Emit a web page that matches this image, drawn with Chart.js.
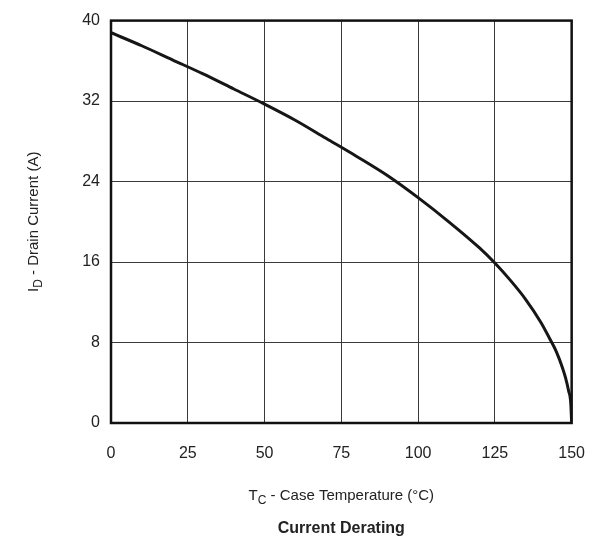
<!DOCTYPE html>
<html>
<head>
<meta charset="utf-8">
<script src="https://cdn.jsdelivr.net/npm/chart.js@4/dist/chart.umd.min.js"></script>
<style>
  html, body { margin: 0; padding: 0; background: #fff; }
  #wrap { width: 606px; height: 538px; }
</style>
</head>
<body>
<div id="wrap"><canvas id="derating" width="606" height="538"></canvas></div>
<script>
// case temperature (°C) vs drain current (A)
const caseTemp = [0, 10, 20, 30, 40, 50, 60, 70, 80, 90, 100, 110, 120, 125, 130, 135, 140, 143, 145, 147, 148, 149, 149.7, 150];
const drainCurrent = [38.8, 37.5, 36.1, 34.7, 33.2, 31.7, 30.1, 28.3, 26.5, 24.6, 22.4, 20.0, 17.4, 15.9, 14.2, 12.3, 10.0, 8.3, 7.1, 5.5, 4.5, 3.2, 2.0, 0];
const xTicks = [0, 25, 50, 75, 100, 125, 150];
const yTicks = [0, 8, 16, 24, 32, 40];

const FONT = '"Liberation Sans", Arial, sans-serif';

// draws the frame and the titles (with subscripts)
const decorations = {
    id: 'decorations',
    afterDatasetsDraw(chart) {
        const { ctx, chartArea: a } = chart;
        ctx.save();
        ctx.strokeStyle = '#111';
        ctx.lineWidth = 2.5;
        ctx.strokeRect(a.left, a.top, a.right - a.left, a.bottom - a.top);
        ctx.restore();
    },
    afterDraw(chart) {
        const { ctx, chartArea: a } = chart;
        ctx.save();
        ctx.fillStyle = '#222';
        ctx.textBaseline = 'alphabetic';

        // x axis title
        const big = '15px ' + FONT, small = '12px ' + FONT;
        const parts = [['T', big, 0], ['C', small, 4], [' - Case Temperature (°C)', big, 0]];
        let w = 0;
        parts.forEach(p => { ctx.font = p[1]; w += ctx.measureText(p[0]).width; });
        let x = (a.left + a.right) / 2 - w / 2;
        parts.forEach(p => {
            ctx.font = p[1];
            ctx.textAlign = 'left';
            ctx.fillText(p[0], x, 500 + p[2]);
            x += ctx.measureText(p[0]).width;
        });

        // y axis title
        ctx.translate(38, (a.top + a.bottom) / 2);
        ctx.rotate(-Math.PI / 2);
        const yparts = [['I', big, 0], ['D', small, 4], [' - Drain Current (A)', big, 0]];
        w = 0;
        yparts.forEach(p => { ctx.font = p[1]; w += ctx.measureText(p[0]).width; });
        x = -w / 2;
        yparts.forEach(p => {
            ctx.font = p[1];
            ctx.fillText(p[0], x, p[2]);
            x += ctx.measureText(p[0]).width;
        });
        ctx.restore();

        // chart caption
        ctx.save();
        ctx.fillStyle = '#222';
        ctx.font = 'bold 16px ' + FONT;
        ctx.textAlign = 'center';
        ctx.fillText('Current Derating', (a.left + a.right) / 2, 533);
        ctx.restore();
    }
};

new Chart(document.getElementById('derating'), {
    type: 'scatter',
    data: {
        datasets: [{
            data: caseTemp.map((t, i) => ({ x: t, y: drainCurrent[i] })),
            showLine: true,
            borderColor: '#161616',
            borderWidth: 3,
            pointRadius: 0,
            cubicInterpolationMode: 'monotone'
        }]
    },
    options: {
        responsive: false,
        animation: false,
        layout: { padding: { top: 20, right: 31, left: 0, bottom: 0 } },
        plugins: { legend: { display: false }, tooltip: { enabled: false } },
        scales: {
            x: {
                type: 'linear',
                min: 0, max: 150,
                afterBuildTicks: axis => { axis.ticks = xTicks.map(v => ({ value: v })); },
                afterFit: axis => { axis.height = 115; },
                grid: { color: '#3a3a3a', lineWidth: 1, drawTicks: false },
                border: { display: false },
                ticks: { padding: 21, color: '#222', font: { size: 16, family: FONT } }
            },
            y: {
                min: 0, max: 40,
                afterBuildTicks: axis => { axis.ticks = yTicks.map(v => ({ value: v })); },
                afterFit: axis => { axis.width = 111; },
                grid: { color: '#3a3a3a', lineWidth: 1, drawTicks: false },
                border: { display: false },
                ticks: { padding: 11, color: '#222', font: { size: 16, family: FONT } }
            }
        }
    },
    plugins: [decorations]
});
</script>
</body>
</html>
